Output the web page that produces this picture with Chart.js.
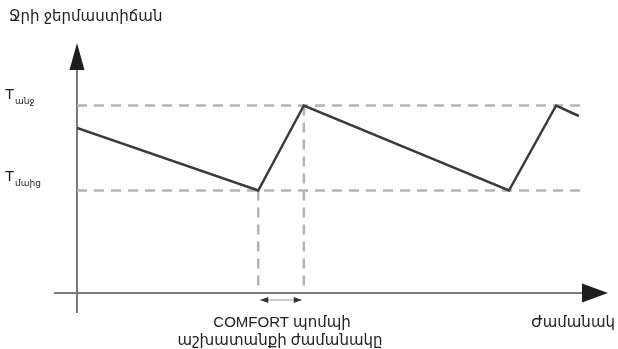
<!DOCTYPE html>
<html>
<head>
<meta charset="utf-8">
<script src="https://cdn.jsdelivr.net/npm/chart.js@4/dist/chart.umd.min.js"></script>
<style>
    html, body { margin: 0; padding: 0; background: #fff; }
    #wrap { width: 618px; height: 349px; }
</style>
</head>
<body>
<div id="wrap"><canvas id="chart" width="618" height="349"></canvas></div>
<script>
// Schematic data: time (arbitrary units) vs water temperature (arbitrary units)
const timePoints = [0, 34.2, 42.8, 81.5, 90.4, 94.7];
const waterTemp = [66, 41, 75, 41, 75, 70.8];
const tMax = 75;
const tMin = 41;
const guideEnd = 95;          // where horizontal guides stop
const guideBottom = 2.4;      // where vertical guides stop
const comfortStart = 34.2;
const comfortEnd = 42.8;

const FONT = '"Liberation Sans", Arial, "DejaVu Sans", "Noto Sans", sans-serif';

const toPoints = (xs, ys) => xs.map((x, i) => ({ x: x, y: ys[i] }));

const dashStyle = {
    borderColor: '#b4b4b4',
    borderWidth: 2.5,
    borderDash: [10, 7],
    pointRadius: 0,
    fill: false,
    tension: 0
};

/**
 * Draws the arrowed axes, the comfort interval arrow and the labels.
 */
const schematicPlugin = {
    id: 'schematic',
    beforeDatasetsDraw(chart) {
        const { ctx, chartArea } = chart;
        const x0 = chartArea.left, y0 = chartArea.bottom;
        ctx.save();
        ctx.strokeStyle = '#7a7a7a';
        ctx.fillStyle = '#1e1e1e';
        ctx.lineWidth = 2;
        // y axis
        ctx.beginPath();
        ctx.moveTo(x0, chartArea.top + 24);
        ctx.lineTo(x0, y0 + 20);
        ctx.stroke();
        ctx.beginPath();
        ctx.moveTo(x0, chartArea.top);
        ctx.lineTo(x0 + 7.5, chartArea.top + 27);
        ctx.lineTo(x0 - 7.5, chartArea.top + 27);
        ctx.closePath();
        ctx.fill();
        // x axis
        ctx.beginPath();
        ctx.moveTo(x0 - 23, y0);
        ctx.lineTo(chartArea.right - 24, y0);
        ctx.stroke();
        ctx.beginPath();
        ctx.moveTo(chartArea.right + 1, y0);
        ctx.lineTo(chartArea.right - 25, y0 - 9.5);
        ctx.lineTo(chartArea.right - 25, y0 + 9.5);
        ctx.closePath();
        ctx.fill();
        ctx.restore();
    },
    afterDatasetsDraw(chart) {
        const { ctx, chartArea, scales } = chart;
        const xa = scales.x.getPixelForValue(comfortStart) + 2;
        const xb = scales.x.getPixelForValue(comfortEnd) - 2;
        const ay = chartArea.bottom + 7;
        ctx.save();
        // comfort interval double arrow
        ctx.strokeStyle = '#9a9a9a';
        ctx.lineWidth = 1;
        ctx.beginPath();
        ctx.moveTo(xa, ay);
        ctx.lineTo(xb, ay);
        ctx.stroke();
        ctx.fillStyle = '#333';
        ctx.beginPath();
        ctx.moveTo(xa, ay);
        ctx.lineTo(xa + 8, ay - 3);
        ctx.lineTo(xa + 8, ay + 3);
        ctx.closePath();
        ctx.fill();
        ctx.beginPath();
        ctx.moveTo(xb, ay);
        ctx.lineTo(xb - 8, ay - 3);
        ctx.lineTo(xb - 8, ay + 3);
        ctx.closePath();
        ctx.fill();

        // labels
        ctx.fillStyle = '#222';
        ctx.textBaseline = 'alphabetic';
        ctx.textAlign = 'left';
        ctx.font = '15px ' + FONT;
        ctx.fillText('Ջրի ջերմաստիճան', 9, 21);

        const yMaxPx = scales.y.getPixelForValue(tMax);
        const yMinPx = scales.y.getPixelForValue(tMin);
        ctx.font = '15px ' + FONT;
        ctx.fillText('T', 5, yMaxPx - 7);
        ctx.fillText('T', 5, yMinPx - 10);
        ctx.font = '9px ' + FONT;
        ctx.fillText('անջ', 15, yMaxPx - 2);
        ctx.fillText('մաից', 15, yMinPx - 5);

        ctx.font = '15px ' + FONT;
        ctx.textAlign = 'center';
        const cx = (scales.x.getPixelForValue(comfortStart) + scales.x.getPixelForValue(comfortEnd)) / 2;
        ctx.fillText('COMFORT պոմպի', cx + 1, 327);
        ctx.fillText('աշխատանքի ժամանակը', cx - 1, 345);
        ctx.textAlign = 'right';
        ctx.fillText('Ժամանակ', 615, 327);
        ctx.restore();
    }
};

new Chart(document.getElementById('chart'), {
    type: 'line',
    data: {
        datasets: [
            Object.assign({ data: toPoints([0, guideEnd], [tMax, tMax]) }, dashStyle),
            Object.assign({ data: toPoints([0, guideEnd], [tMin, tMin]) }, dashStyle),
            Object.assign({ data: toPoints([comfortStart, comfortStart], [tMin, guideBottom]) }, dashStyle),
            Object.assign({ data: toPoints([comfortEnd, comfortEnd], [tMax, guideBottom]) }, dashStyle),
            {
                data: toPoints(timePoints, waterTemp),
                borderColor: '#3a3a3a',
                borderWidth: 2.5,
                pointRadius: 0,
                fill: false,
                tension: 0,
                order: -1
            }
        ]
    },
    options: {
        responsive: false,
        animation: false,
        events: [],
        layout: { padding: { left: 77, right: 11, top: 43, bottom: 56 } },
        plugins: {
            legend: { display: false },
            tooltip: { enabled: false },
            title: { display: false }
        },
        scales: {
            x: { type: 'linear', min: 0, max: 100, display: false },
            y: { type: 'linear', min: 0, max: 100, display: false }
        }
    },
    plugins: [schematicPlugin]
});
</script>
</body>
</html>
